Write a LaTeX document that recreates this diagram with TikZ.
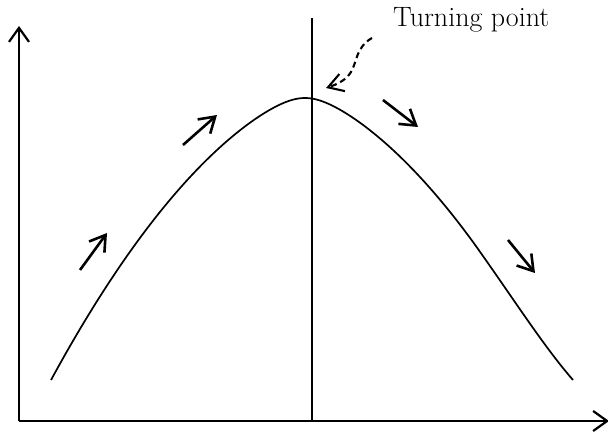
\documentclass[tikz,border=0pt]{standalone}
\usetikzlibrary{arrows.meta}
\begin{document}
\begin{tikzpicture}[x=1pt,y=-1pt,
  axis/.style={line width=2.2pt,-{Straight Barb[length=14pt,width=20pt,line width=2.2pt]}},
  dirarrow/.style={line width=2.6pt,-{Straight Barb[length=15pt,width=19pt,line width=2.6pt]}},
  curve/.style={line width=1.7pt},
  turnarrow/.style={line width=2.1pt,dash pattern=on 6pt off 4pt,-{Straight Barb[length=15pt,width=18pt,line width=2.1pt]}}]
\useasboundingbox (0,0) rectangle (608,433);
\coordinate (o) at (19,421);
\coordinate (ytop) at (19,26);
\coordinate (xend) at (609,421);
\draw[axis] (o) -- (ytop);
\draw[axis] (o) -- (xend);
\coordinate (vtop) at (312,18);
\coordinate (vbot) at (312,421);
\draw[curve] (vtop) -- (vbot);
\coordinate (cend) at (573,380);
\draw[curve] plot[domain=-2.54:1.7,samples=160] ({305+100*\x},{98+46.7*(sqrt(\x*\x+0.0625)-0.25)+27.05*\x*\x})
  .. controls (513,298) and (543,345.5) .. (cend);
\coordinate (a1s) at (80,270); \coordinate (a1e) at (107,233);
\coordinate (a2s) at (183,145); \coordinate (a2e) at (217,115);
\coordinate (a3s) at (383,100); \coordinate (a3e) at (418,127);
\coordinate (a4s) at (508,240); \coordinate (a4e) at (535,273);
\draw[dirarrow] (a1s) -- (a1e);
\draw[dirarrow] (a2s) -- (a2e);
\draw[dirarrow] (a3s) -- (a3e);
\draw[dirarrow] (a4s) -- (a4e);
\node[anchor=base west,inner sep=0pt,font=\fontsize{28}{32}\selectfont] (tp) at (393,27) {Turning point};
\coordinate (ds) at (372,38);
\coordinate (de) at (326,88);
\draw[turnarrow] (ds) .. controls (356,47) and (357,62) .. (351,72) .. controls (346,80) and (338,84) .. (de);
\end{tikzpicture}
\end{document}
